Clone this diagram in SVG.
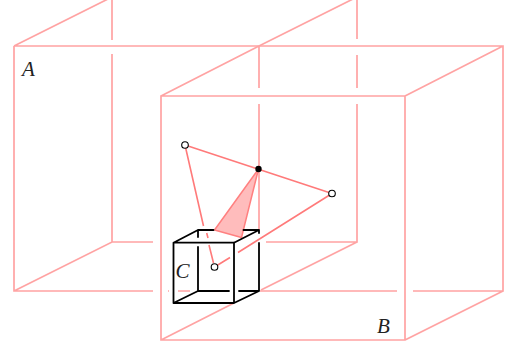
<svg xmlns="http://www.w3.org/2000/svg" width="507" height="349" viewBox="0 0 507 349">
<style>
.w{fill:none;stroke:#ffa3a3;stroke-width:1.7;stroke-linecap:butt}
.k{fill:none;stroke:#000;stroke-width:1.8;stroke-linecap:round;stroke-linejoin:round}
.r{fill:none;stroke:#ff7a7a;stroke-width:1.6}
.t{font-family:"Liberation Serif",serif;font-style:italic;font-size:21px;fill:#222}
.o{fill:#fff;stroke:#000;stroke-width:1.1}
</style>
<rect width="507" height="349" fill="#fff"/>
<g id="box-A">
<path class="w" d="M14 46H259M14 46V291H153M168 291H169M178 291H190M14 46L111 -2.500M14 291L112 242H153M112 0V40M112 54V242M259 46L357 -3M357 -3V39M357 55V88M357 104V242H266M357 242L261 290"/>
<text class="t" x="22" y="76">A</text>
</g>
<g id="box-B">
<path class="w" d="M161 96H405V340H161ZM259 46L161 96M259 46H503V291H413M397 291H260M259 46V88M259 104V230M405 96L503 46M503 291L405 340M161 340L234 303"/>
<text class="t" x="377" y="333">B</text>
</g>
<g id="connectors">
<path class="r" d="M185 145L332 193.500M185 145L203.500 226M206.700 233L208 238M209 245L213.500 263M214.500 267L230 257.500M238 252.500L332 193.500"/>
<path d="M258.500 169L214.500 230L241.500 237.500Z" fill="#ffbcbc" stroke="#ff8080" stroke-width="1.500" stroke-linejoin="round"/>
</g>
<g id="box-C">
<path class="k" d="M173.500 242.700H234V303H173.500ZM173.500 242.700L198 230H213.500M243.500 230H259L234 242.700M259 230V233M259 243V291L234 303M198 230V237M198 247V291L173.500 303M198 291H229M239 291H259"/>
<text class="t" x="175.500" y="278">C</text>
</g>
<g id="point-1"><circle class="o" cx="185" cy="145" r="3.300"/></g>
<g id="point-2"><circle cx="258.500" cy="169" r="3.200"/></g>
<g id="point-3"><circle class="o" cx="332" cy="193.500" r="3.300"/></g>
<g id="point-4"><circle class="o" cx="214.500" cy="267" r="3.300"/></g>
</svg>
